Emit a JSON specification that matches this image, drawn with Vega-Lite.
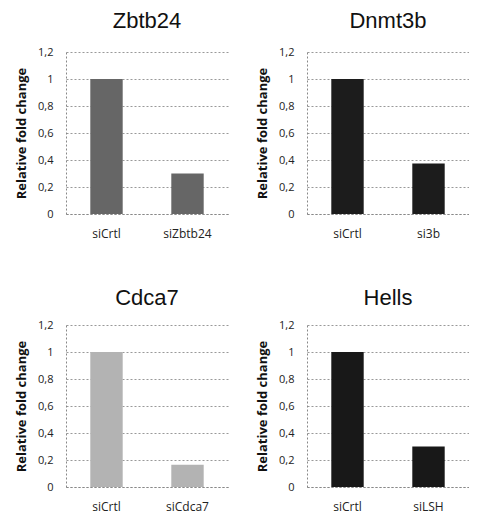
{
  "$schema": "https://vega.github.io/schema/vega-lite/v6.json",
  "background": "white",
  "padding": {"left": 15, "top": 10, "right": 0, "bottom": 0},
  "config": {
    "view": {"stroke": null},
    "title": {"font": "Liberation Sans", "fontSize": 22, "fontWeight": "normal", "color": "#111", "offset": 12, "anchor": "middle"},
    "axisX": {"title": null, "labelAngle": 0, "labelFont": "Open Sans", "labelFontSize": 12, "labelColor": "#222", "ticks": false, "domainColor": "#888", "domainDash": [2, 2], "labelPadding": 14},
    "axisY": {"titleFont": "Open Sans", "titleFontSize": 13, "titleFontWeight": "bold", "titleColor": "#111", "titlePadding": 9, "labelFont": "Open Sans", "labelFontSize": 11, "labelColor": "#222", "ticks": false, "domainColor": "#888", "domainDash": [2, 2], "gridColor": "#999", "gridDash": [2, 2], "values": [0, 0.2, 0.4, 0.6, 0.8, 1, 1.2], "labelExpr": "replace(format(datum.value, '.1~f'), '.', ',')", "labelPadding": 13}
  },
  "spacing": 48,
  "vconcat": [
    {
      "spacing": 28,
      "hconcat": [
        {
          "title": {"text": "Zbtb24", "offset": 13},
          "width": 162, "height": 162,
          "data": {"values": [{"sample": "siCrtl", "value": 1}, {"sample": "siZbtb24", "value": 0.3}]},
          "mark": {"type": "bar", "color": "#666666"},
          "encoding": {
            "x": {"field": "sample", "type": "nominal", "sort": null, "scale": {"paddingInner": 0.6, "paddingOuter": 0.3}},
            "y": {"field": "value", "type": "quantitative", "title": "Relative fold change", "scale": {"domain": [0, 1.2]}}
          }
        },
        {
          "title": {"text": "Dnmt3b", "offset": 13},
          "width": 162, "height": 162,
          "data": {"values": [{"sample": "siCrtl", "value": 1}, {"sample": "si3b", "value": 0.375}]},
          "mark": {"type": "bar", "color": "#1c1c1c"},
          "encoding": {
            "x": {"field": "sample", "type": "nominal", "sort": null, "scale": {"paddingInner": 0.6, "paddingOuter": 0.3}},
            "y": {"field": "value", "type": "quantitative", "title": "Relative fold change", "scale": {"domain": [0, 1.2]}}
          }
        }
      ]
    },
    {
      "spacing": 28,
      "hconcat": [
        {
          "title": {"text": "Cdca7", "offset": 9},
          "width": 162, "height": 162,
          "data": {"values": [{"sample": "siCrtl", "value": 1}, {"sample": "siCdca7", "value": 0.165}]},
          "mark": {"type": "bar", "color": "#b3b3b3"},
          "encoding": {
            "x": {"field": "sample", "type": "nominal", "sort": null, "scale": {"paddingInner": 0.6, "paddingOuter": 0.3}},
            "y": {"field": "value", "type": "quantitative", "title": "Relative fold change", "scale": {"domain": [0, 1.2]}}
          }
        },
        {
          "title": {"text": "Hells", "offset": 9},
          "width": 162, "height": 162,
          "data": {"values": [{"sample": "siCrtl", "value": 1}, {"sample": "siLSH", "value": 0.3}]},
          "mark": {"type": "bar", "color": "#181818"},
          "encoding": {
            "x": {"field": "sample", "type": "nominal", "sort": null, "scale": {"paddingInner": 0.6, "paddingOuter": 0.3}},
            "y": {"field": "value", "type": "quantitative", "title": "Relative fold change", "scale": {"domain": [0, 1.2]}}
          }
        }
      ]
    }
  ]
}
